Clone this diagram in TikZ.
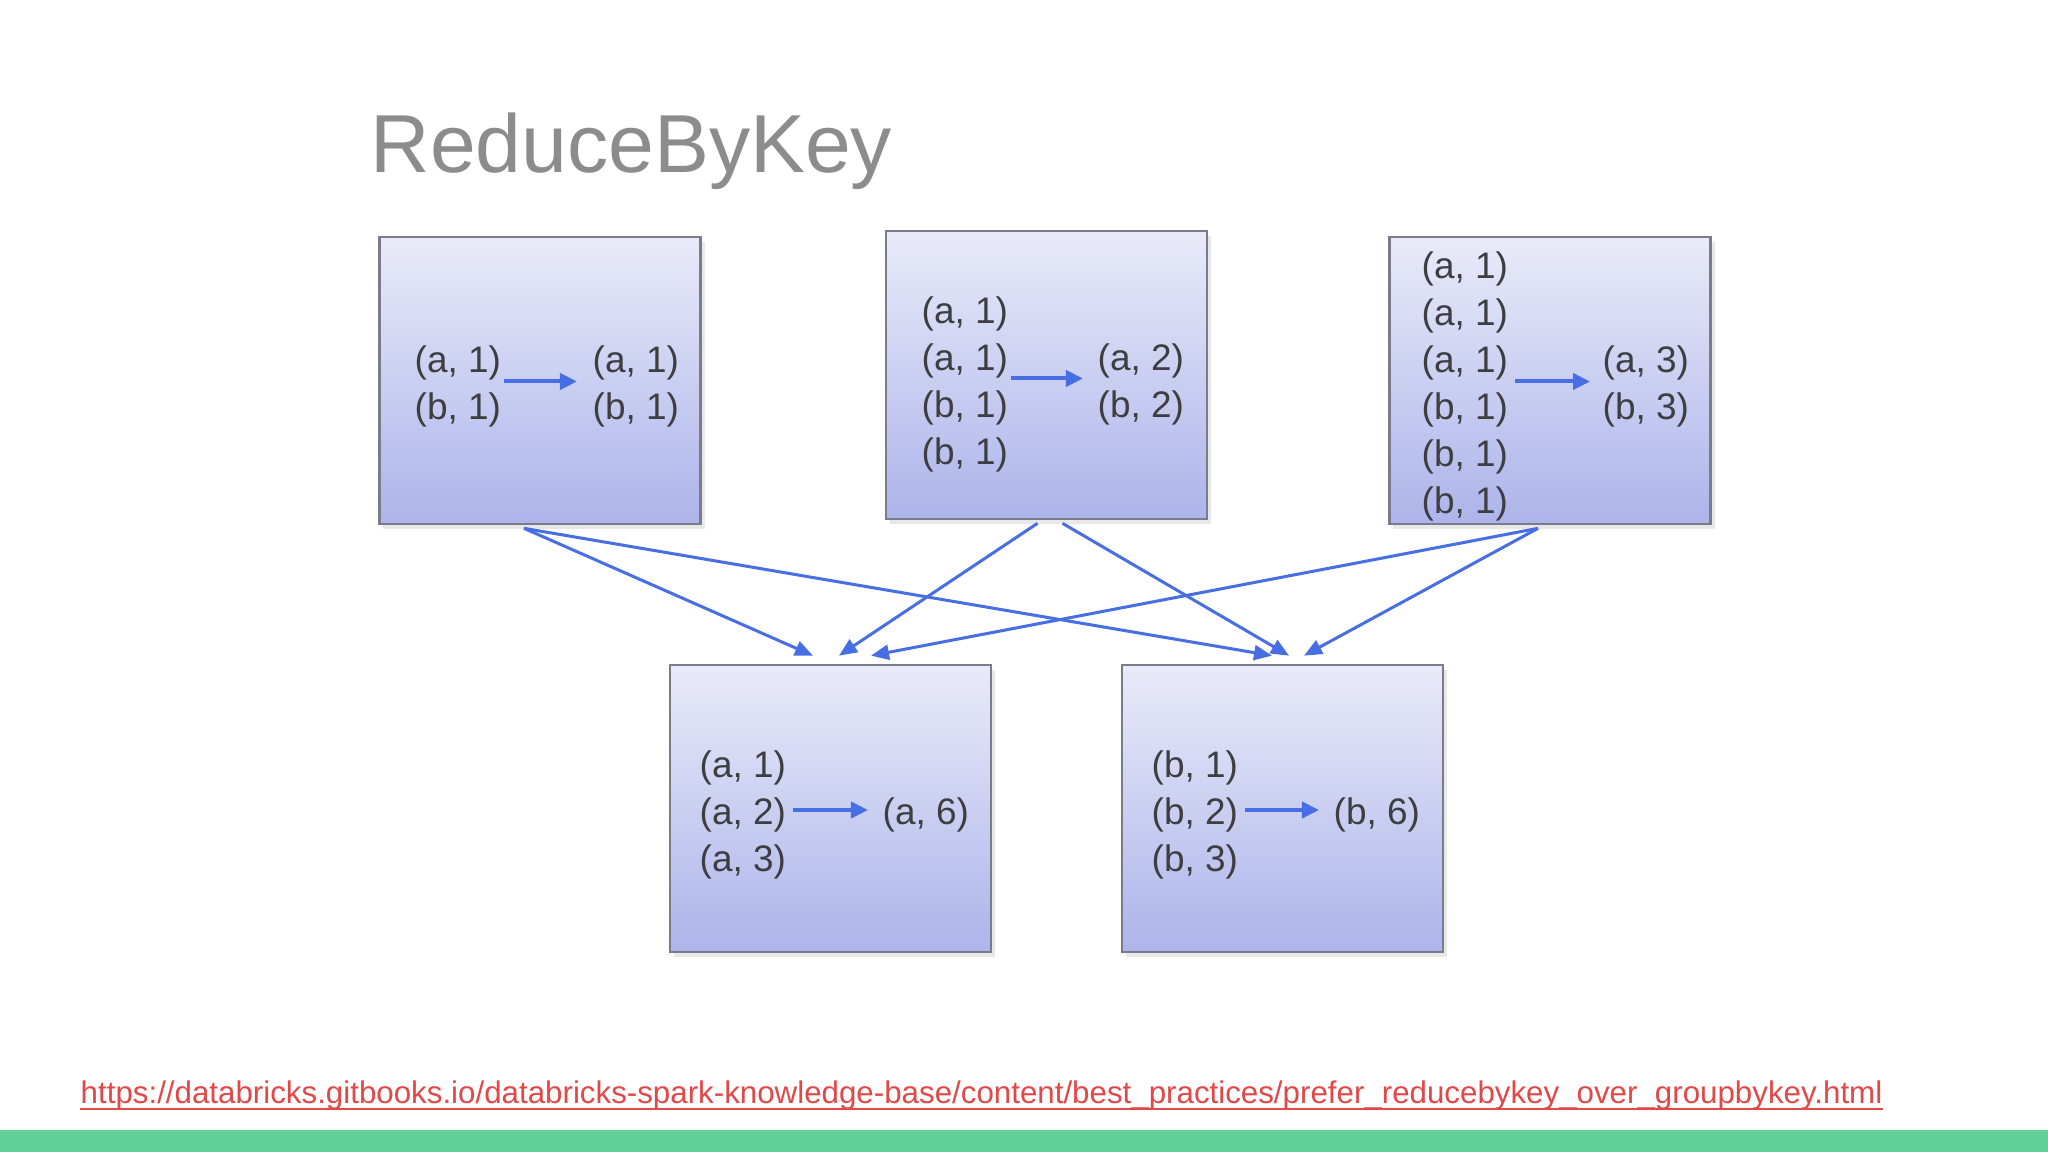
\documentclass[tikz,border=0pt]{standalone}
\usepackage{fontspec}
\setmainfont{Liberation Sans}
\usetikzlibrary{arrows.meta,shadows}
\definecolor{boxtop}{RGB}{233,235,249}
\definecolor{boxbot}{RGB}{172,180,234}
\definecolor{boxline}{RGB}{122,124,140}
\definecolor{arrowblue}{RGB}{72,110,228}
\definecolor{txt}{RGB}{62,62,66}
\definecolor{titlegray}{RGB}{140,140,140}
\definecolor{urlred}{RGB}{226,72,72}
\definecolor{bargreen}{RGB}{98,208,152}
\begin{document}
\begin{tikzpicture}[x=0.01cm,y=-0.01cm,
  part/.style={draw=boxline, line width=0.25mm, top color=boxtop, bottom color=boxbot,
    minimum width=3.21cm, minimum height=2.87cm, inner sep=0,
    drop shadow={opacity=0.18, shadow xshift=0.4mm, shadow yshift=-0.5mm}},
  pairs/.style={text=txt, font=\fontsize{10.5}{13.37}\selectfont, align=left, anchor=west, inner sep=0},
  inarrow/.style={draw=arrowblue, line width=0.4mm, -{Triangle[length=1.7mm,width=1.6mm]}},
  shuffle/.style={draw=arrowblue, line width=0.3mm, -{Triangle[length=1.8mm,width=1.5mm]}}]
\useasboundingbox (0,0) rectangle (2048,1152);
\fill[white] (0,0) rectangle (2048,1152);

% title
\node[anchor=base west, inner sep=0, text=titlegray, font=\fontsize{23.4}{28}\selectfont] (title) at (370,173) {ReduceByKey};

% boxes
\node[part] (b1) at (540,380.5) {};
\node[part, minimum height=2.88cm] (b2) at (1046.5,375) {};
\node[part] (b3) at (1550,380.5) {};
\node[part] (b4) at (830.5,808.5) {};
\node[part] (b5) at (1282.5,808.5) {};

% box 1
\node[pairs] (b1l) at (414,386.5) {(a, 1)\\(b, 1)};
\node[pairs] (b1r) at (592,386.5) {(a, 1)\\(b, 1)};
\draw[inarrow] ([xshift=0.2mm,yshift=0.5mm]b1l.east) -- ([xshift=-1.5mm,yshift=0.5mm]b1r.west);

% box 2
\node[pairs] (b2l) at (921,384.5) {(a, 1)\\(a, 1)\\(b, 1)\\(b, 1)};
\node[pairs] (b2r) at (1097,384.5) {(a, 2)\\(b, 2)};
\draw[inarrow] ([xshift=0.2mm,yshift=0.6mm]b2l.east) -- ([xshift=-1.4mm,yshift=0.6mm]b2r.west);

% box 3
\node[pairs] (b3l) at (1421,386.5) {(a, 1)\\(a, 1)\\(a, 1)\\(b, 1)\\(b, 1)\\(b, 1)};
\node[pairs] (b3r) at (1602,386.5) {(a, 3)\\(b, 3)};
\draw[inarrow] ([xshift=0.6mm,yshift=0.5mm]b3l.east) -- ([xshift=-1.2mm,yshift=0.5mm]b3r.west);

% box 4
\node[pairs] (b4l) at (699,815) {(a, 1)\\(a, 2)\\(a, 3)};
\node[pairs] (b4r) at (882,815) {(a, 6)};
\draw[inarrow] ([xshift=0.6mm,yshift=0.5mm]b4l.east) -- ([xshift=-1.4mm,yshift=0.5mm]b4r.west);

% box 5
\node[pairs] (b5l) at (1151,815) {(b, 1)\\(b, 2)\\(b, 3)};
\node[pairs] (b5r) at (1333,815) {(b, 6)};
\draw[inarrow] ([xshift=0.6mm,yshift=0.5mm]b5l.east) -- ([xshift=-1.4mm,yshift=0.5mm]b5r.west);

% connector ends
\coordinate (s1) at ([xshift=-1.6mm,yshift=-0.3mm]b1.south);
\coordinate (s2a) at ([xshift=-0.9mm,yshift=-0.3mm]b2.south);
\coordinate (s2b) at ([xshift=1.6mm,yshift=-0.3mm]b2.south);
\coordinate (s3) at ([xshift=-1.2mm,yshift=-0.3mm]b3.south);
\coordinate (t4a) at ([xshift=-1.75mm,yshift=0.8mm]b4.north);
\coordinate (t4b) at ([xshift=0.85mm,yshift=0.8mm]b4.north);
\coordinate (t4c) at ([xshift=4.05mm,yshift=0.8mm]b4.north);
\coordinate (t5a) at ([xshift=-1.05mm,yshift=0.8mm]b5.north);
\coordinate (t5b) at ([xshift=0.65mm,yshift=0.8mm]b5.north);
\coordinate (t5c) at ([xshift=2.15mm,yshift=0.8mm]b5.north);

\draw[shuffle] (s1) -- (t4a);
\draw[shuffle] (s1) -- (t5a);
\draw[shuffle] (s2a) -- (t4b);
\draw[shuffle] (s2b) -- (t5b);
\draw[shuffle] (s3) -- (t4c);
\draw[shuffle] (s3) -- (t5c);

% url
\node[anchor=base west, inner sep=0, text=urlred, font=\fontsize{8.9}{10}\selectfont] (url) at (80,1103) {https://databricks.gitbooks.io/databricks-spark-knowledge-base/content/best\_practices/prefer\_reducebykey\_over\_groupbykey.html};
\draw[urlred, line width=0.25mm] ([yshift=-0.6mm]url.base west) -- ([yshift=-0.6mm]url.base east);

% bottom bar
\fill[bargreen] (0,1130) rectangle (2048,1152);
\end{tikzpicture}
\end{document}
